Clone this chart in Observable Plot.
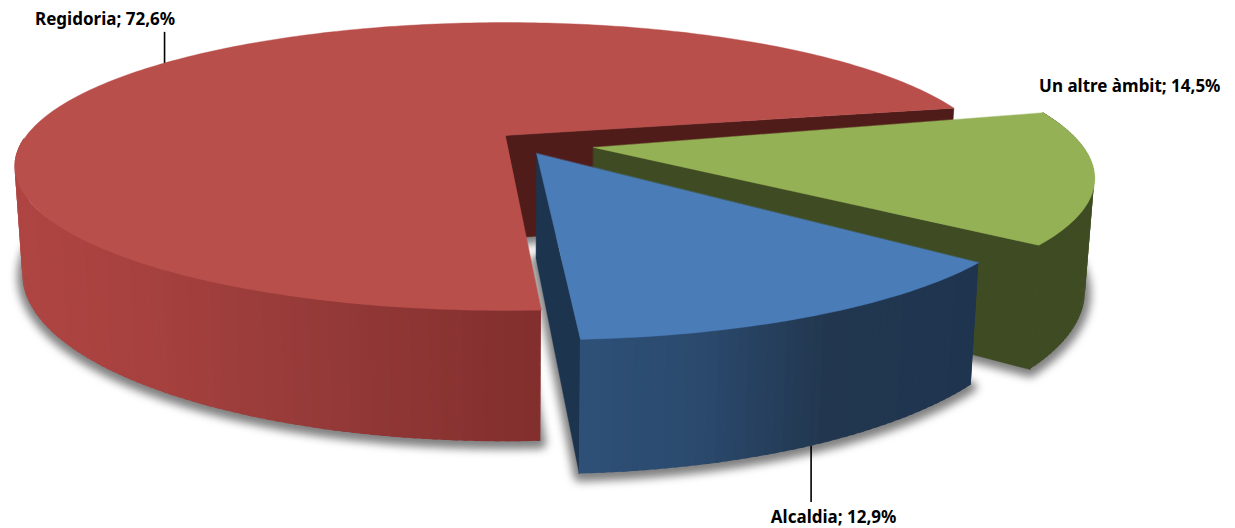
<!DOCTYPE html>
<html>
<head>
<meta charset="utf-8">
<script src="https://cdn.jsdelivr.net/npm/d3@7"></script>
<script src="https://cdn.jsdelivr.net/npm/@observablehq/plot@0.6"></script>
<style>html,body{margin:0;padding:0;background:#fff}svg{display:block}</style>
</head>
<body>
<div id="chart"></div>
<script>
// Data
const categories = ["Regidoria", "Un altre àmbit", "Alcaldia"];
const shares = [72.6, 14.5, 12.9];
const shareLabels = ["72,6%", "14,5%", "12,9%"];

// Style
const topColors = ["#b94f4b", "#94b255", "#4a7cb8"];
const wallColors = ["#501c1a", "#3f4c23", "#1d344f"];
const rimStops = [
  [[20, "#ae4542"], [150, "#a6413f"], [300, "#973b39"], [540, "#822f2e"]],
  [[900, "#3f4c23"], [1100, "#3f4c23"]],
  [[580, "#2e5077"], [700, "#2b4a6e"], [830, "#22374f"], [980, "#1f344f"]]
];

// Projection of the tilted disc
const cx = 505, cy = 135, rx = 479, ry = 137.3, persp = 0.2153;
const depths = [103, 106, 102], bottomShrink = 0.984;
const startDeg = 12;                 // Regidoria starts here, running counter-clockwise
const apexOffset = [[0, 0], [0.18, -0.085], [0.063, -0.127]];
const rimOffset = [[0, 0], [0.186, -0.037], [0.06, -0.127]];

function project(X, Y, down, i) {
  const w = 1 + persp * Y;
  const sx = rx * X / w, sy = cy - ry * Y / w;
  return down
    ? {x: cx + sx * bottomShrink, y: sy + depths[i] / w}
    : {x: cx + sx, y: sy};
}
const spans = shares.map(v => v / d3.sum(shares) * 360);
// Regidoria goes ccw from startDeg, then the others continue ccw in reverse order
const slices = (() => {
  const red = {i: 0, a0: startDeg, a1: startDeg + spans[0]};
  const blue = {i: 2, a0: red.a1, a1: red.a1 + spans[2]};
  const green = {i: 1, a0: blue.a1, a1: blue.a1 + spans[1]};
  return [red, green, blue];
})();
const rimPoint = (s, deg, down) => {
  const r = deg * Math.PI / 180, [ex, ey] = rimOffset[s.i];
  return project(Math.cos(r) + ex, Math.sin(r) + ey, down, s.i);
};
const apex = (s, down) => project(apexOffset[s.i][0], apexOffset[s.i][1], down, s.i);
const degs = s => d3.range(0, Math.ceil(s.a1 - s.a0) + 1).map(k => Math.min(s.a0 + k, s.a1));

function polygon(rows, id, fill, pts) {
  pts.forEach(p => rows.push({id, fill, x: p.x, y: p.y}));
}

// Shadow rows: bottom face of every slice
const shadowRows = [];
slices.forEach(s => polygon(shadowRows, "s" + s.i, "#808080",
  [apex(s, true), ...degs(s).map(d => rimPoint(s, d, true))].map(p => ({x: p.x, y: p.y + 2}))));

// Layers, painted back to front
function wall(rows, s, deg, id) {
  polygon(rows, id, wallColors[s.i], [apex(s, false), rimPoint(s, deg, false), rimPoint(s, deg, true), apex(s, true)]);
}
function rim(rows, s) {
  const st = rimStops[s.i];
  const color = d3.scaleLinear().domain(st.map(d => d[0])).range(st.map(d => d[1])).interpolate(d3.interpolateRgb).clamp(true);
  const ds = degs(s).filter(d => d > 180 || d < 12 || s.i !== 0);
  for (let k = 0; k < ds.length - 1; k++) {
    const id = `r${s.i}-${k}`;
    const next = Math.min(ds[k + 1] + 0.5, s.a1);   // small overlap hides seams
    const a = rimPoint(s, ds[k], false), b = rimPoint(s, next, false);
    const c = rimPoint(s, ds[k], true), d = rimPoint(s, next, true);
    const fill = color((a.x + b.x) / 2);
    rows.push({id, fill, x1: a.x, y1: a.y, x2: c.x, y2: c.y});
    rows.push({id, fill, x1: b.x, y1: b.y, x2: d.x, y2: d.y});
  }
}
const top_ = s => {
  const rows = [];
  polygon(rows, "t" + s.i, topColors[s.i], [apex(s, false), ...degs(s).map(d => rimPoint(s, d, false))]);
  return rows;
};
const [red, green, blue] = slices;

const layer = s => {
  const walls = [], rims = [];
  wall(walls, s, s.a0, "w" + s.i);
  rim(rims, s);
  return [
    Plot.line(walls, {x: "x", y: "y", z: "id", fill: "fill", stroke: "fill", strokeWidth: 0.4, curve: "linear-closed"}),
    Plot.area(rims, {x1: "x1", y1: "y1", x2: "x2", y2: "y2", z: "id", fill: "fill"}),
    Plot.line(top_(s), {x: "x", y: "y", z: "id", fill: "fill", stroke: "fill", strokeWidth: 0.4, curve: "linear-closed"})
  ];
};

// Leaders and labels derive from each slice's mid-angle on the rim
const mid = s => (s.a0 + s.a1) / 2;
const redAnchor = rimPoint(red, mid(red), false);
const blueAnchor = rimPoint(blue, mid(blue), true);
const greenAnchor = rimPoint(green, mid(green), false);
const leaders = [
  {x1: redAnchor.x - 4, y1: redAnchor.y + 1, x2: redAnchor.x - 4, y2: redAnchor.y - 30},
  {x1: blueAnchor.x - 1, y1: blueAnchor.y, x2: blueAnchor.x - 1, y2: blueAnchor.y + 56}
];
const labels = [
  {t: `${categories[0]}; ${shareLabels[0]}`, x: redAnchor.x - 63.5, y: redAnchor.y - 42},
  {t: `${categories[1]}; ${shareLabels[1]}`, x: greenAnchor.x + 35, y: greenAnchor.y - 90},
  {t: `${categories[2]}; ${shareLabels[2]}`, x: blueAnchor.x + 21.5, y: blueAnchor.y + 72}
];

const plot = Plot.plot({
  width: 1235, height: 528,
  margin: 0,
  style: {background: "#fff"},
  x: {domain: [0, 1235], range: [0, 1235], axis: null},
  y: {domain: [0, 528], range: [0, 528], axis: null},
  color: {type: "identity"},
  marks: [
    Plot.line(shadowRows, {x: "x", y: "y", z: "id", fill: "fill", stroke: "fill", strokeWidth: 11, curve: "linear-closed", imageFilter: "blur(4px)"}),
    ...layer(red),
    ...layer(green),
    ...layer(blue),
    Plot.link(leaders, {x1: "x1", y1: "y1", x2: "x2", y2: "y2", stroke: "#000", strokeWidth: 1.6}),
    Plot.text(labels, {x: "x", y: "y", text: "t", fontFamily: "Noto Sans", fontWeight: 700, fontSize: 17, fill: "#000", textAnchor: "middle"})
  ]
});
document.getElementById("chart").append(plot);
</script>
</body>
</html>
